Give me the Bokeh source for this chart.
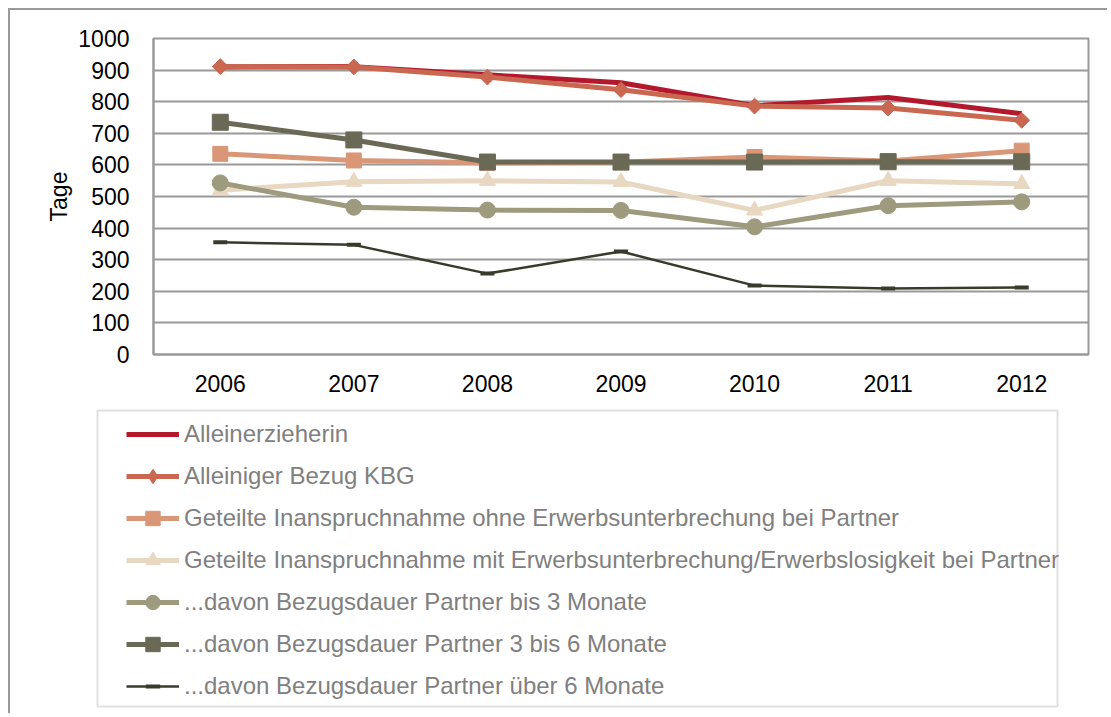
import math
from bokeh.plotting import figure
from bokeh.models import Legend, LegendItem, FixedTicker, Range1d, BoxAnnotation
from bokeh.embed import file_html
from bokeh.resources import INLINE

years = ["2006", "2007", "2008", "2009", "2010", "2011", "2012"]

allein_erz = [910, 911, 885, 860, 787, 813, 762]
allein_kbg = [911, 910, 878, 838, 786, 780, 741]
geteilt_ohne = [635, 614, 607, 608, 625, 612, 645]
geteilt_mit = [520, 547, 550, 546, 456, 550, 540]
bis3 = [543, 466, 457, 456, 404, 471, 483]
bis3_6 = [735, 679, 609, 609, 609, 610, 610]
ueber6 = [355, 347, 256, 326, 218, 209, 212]

labels = [
    "Alleinerzieherin",
    "Alleiniger Bezug KBG",
    "Geteilte Inanspruchnahme ohne Erwerbsunterbrechung bei Partner",
    "Geteilte Inanspruchnahme mit Erwerbsunterbrechung/Erwerbslosigkeit bei Partner",
    "...davon Bezugsdauer Partner bis 3 Monate",
    "...davon Bezugsdauer Partner 3 bis 6 Monate",
    "...davon Bezugsdauer Partner über 6 Monate",
]
y_ticks = list(range(0, 1001, 100))

FONT = "Liberation Sans"
GRID = "#999999"

# values, colour, marker, marker size, line width
series = [
    (allein_erz, "#B3182D", None, 0, 5),
    (allein_kbg, "#C96751", "diamond", 20, 5),
    (geteilt_ohne, "#D99777", "square", 15, 5),
    (geteilt_mit, "#E8D7C1", "triangle", 16, 5),
    (bis3, "#9E9A7E", "circle", 16, 5),
    (bis3_6, "#6A6956", "square", 16, 5),
    (ueber6, "#3A3A2C", "dash", 14, 2.5),
]


def draw(fig, vals, color, marker, size, lw, chart=True):
    rs = [fig.line(years, vals, line_color=color, line_width=lw)]
    if marker == "dash":
        rs.append(fig.scatter(years, vals, marker="dash", size=size, line_color=color, line_width=4))
    elif marker == "diamond" and chart:
        # square diamond as in the original (rotated square)
        rs.append(fig.scatter(years, vals, marker="square", size=size * 0.56, angle=math.pi / 4,
                              fill_color=color, line_color=color, line_width=1))
    elif marker is not None:
        rs.append(fig.scatter(years, vals, marker=marker, size=size, fill_color=color, line_color=color))
    return rs


# --- main chart ---
p = figure(
    x_range=years, y_range=(0, 1000),
    width=1099, height=388,
    output_backend="svg", toolbar_location=None,
    min_border_left=143, min_border_right=21, min_border_top=28, min_border_bottom=44,
)
p.outline_line_color = GRID
p.outline_line_width = 2
p.border_fill_color = "white"

p.xgrid.grid_line_color = None
p.ygrid.grid_line_color = GRID
p.ygrid.grid_line_width = 2

p.yaxis.ticker = FixedTicker(ticks=y_ticks)
p.yaxis.axis_line_color = GRID
p.yaxis.axis_line_width = 2
p.yaxis.major_tick_line_color = None
p.yaxis.minor_tick_line_color = None
p.yaxis.major_label_text_font = FONT
p.yaxis.major_label_text_font_size = "23px"
p.yaxis.major_label_text_color = "black"
p.yaxis.major_label_standoff = 18
p.yaxis.axis_label = "Tage"
p.yaxis.axis_label_text_font = FONT
p.yaxis.axis_label_text_font_size = "23px"
p.yaxis.axis_label_text_font_style = "normal"
p.yaxis.axis_label_text_color = "black"
p.yaxis.axis_label_standoff = 3

p.xaxis.axis_line_color = GRID
p.xaxis.axis_line_width = 2
p.xaxis.major_tick_line_color = None
p.xaxis.minor_tick_line_color = None
p.xaxis.major_label_text_font = FONT
p.xaxis.major_label_text_font_size = "23px"
p.xaxis.major_label_text_color = "black"
p.xaxis.major_label_standoff = 14

for s in series:
    draw(p, *s)

# --- legend panel (same series drawn off-view so only the legend shows) ---
q = figure(
    x_range=years, y_range=Range1d(5000, 6000),
    width=1099, height=317,
    output_backend="svg", toolbar_location=None,
    min_border_left=0, min_border_right=0, min_border_top=0, min_border_bottom=0,
    x_axis_type=None, y_axis_type=None,
)
q.outline_line_color = None
q.xgrid.grid_line_color = None
q.ygrid.grid_line_color = None
q.border_fill_color = "white"

items = [draw(q, *s, chart=False) for s in series]

frame_box = BoxAnnotation(
    left=87, right=1047, top=303, bottom=7,
    left_units="screen", right_units="screen", top_units="screen", bottom_units="screen",
    fill_alpha=0, line_color=GRID, line_width=2,
)
q.add_layout(frame_box)

legend = Legend(
    items=[LegendItem(label=lab, renderers=rs) for lab, rs in zip(labels, items)],
    location=(116, 9),
    orientation="vertical",
    label_text_font=FONT,
    label_text_font_size="24px",
    label_text_color="#808080",
    glyph_width=53,
    glyph_height=36,
    label_height=24,
    spacing=6,
    padding=3,
    margin=0,
    label_standoff=5,
    border_line_color=None,
    background_fill_alpha=0,
)
q.add_layout(legend, "center")

p.styles = {
    "margin-left": "8px",
    "margin-top": "8px",
    "border-left": "2px solid #999999",
    "border-top": "2px solid #999999",
}
q.styles = {
    "margin-left": "8px",
    "border-left": "2px solid #999999",
}

open("out.html", "w").write(file_html([p, q], INLINE))
